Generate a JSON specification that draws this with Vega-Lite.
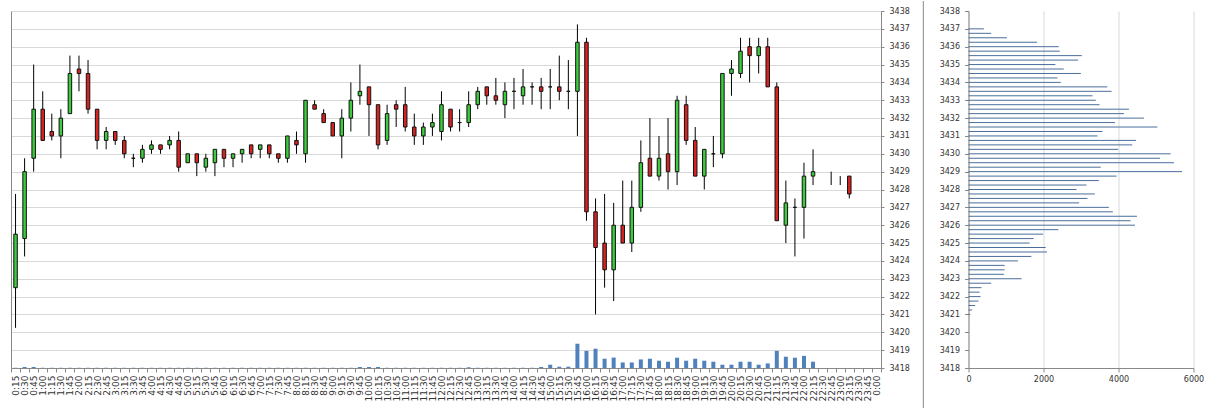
{
  "$schema": "https://vega.github.io/schema/vega-lite/v6.json",
  "padding": {"left": 7, "top": 0, "right": 0, "bottom": 0},
  "background": "white",
  "bounds": "flush",
  "spacing": 87.5,
  "config": {
    "view": {"stroke": null},
    "font": "DejaVu Sans",
    "axis": {"labelFont": "DejaVu Sans", "labelFontSize": 8, "labelColor": "#333333", "domainColor": "#888888", "tickColor": "#888888", "gridColor": "#d9d9d9", "title": null, "labelOverlap": false, "labelFlush": false}
  },
  "datasets": {
    "candles": [
      {"t": "0:15", "open": 3422.5, "high": 3427.75, "low": 3420.25, "close": 3425.5, "vol": 150},
      {"t": "0:30", "open": 3425.25, "high": 3429.75, "low": 3424.25, "close": 3429, "vol": 700},
      {"t": "0:45", "open": 3429.75, "high": 3435, "low": 3429, "close": 3432.5, "vol": 700},
      {"t": "1:00", "open": 3432.5, "high": 3433.5, "low": 3430.75, "close": 3430.75, "vol": 150},
      {"t": "1:15", "open": 3431.25, "high": 3432.25, "low": 3430.75, "close": 3431, "vol": 150},
      {"t": "1:30", "open": 3431, "high": 3432.5, "low": 3429.75, "close": 3432, "vol": 150},
      {"t": "1:45", "open": 3432.25, "high": 3435.5, "low": 3432.25, "close": 3434.5, "vol": 150},
      {"t": "2:00", "open": 3434.75, "high": 3435.5, "low": 3433.5, "close": 3434.5, "vol": 150},
      {"t": "2:15", "open": 3434.5, "high": 3435.25, "low": 3432.25, "close": 3432.5, "vol": 150},
      {"t": "2:30", "open": 3432.5, "high": 3432.5, "low": 3430.25, "close": 3430.75, "vol": 150},
      {"t": "2:45", "open": 3430.75, "high": 3431.5, "low": 3430.25, "close": 3431.25, "vol": 150},
      {"t": "3:00", "open": 3431.25, "high": 3431.25, "low": 3430.5, "close": 3430.75, "vol": 150},
      {"t": "3:15", "open": 3430.75, "high": 3431, "low": 3429.75, "close": 3430, "vol": 150},
      {"t": "3:30", "open": 3429.75, "high": 3430, "low": 3429.25, "close": 3429.75, "vol": 150},
      {"t": "3:45", "open": 3429.75, "high": 3430.5, "low": 3429.5, "close": 3430.25, "vol": 150},
      {"t": "4:00", "open": 3430.25, "high": 3430.75, "low": 3430, "close": 3430.5, "vol": 150},
      {"t": "4:15", "open": 3430.5, "high": 3430.5, "low": 3430, "close": 3430.25, "vol": 150},
      {"t": "4:30", "open": 3430.5, "high": 3431, "low": 3430.25, "close": 3430.75, "vol": 150},
      {"t": "4:45", "open": 3430.75, "high": 3431.25, "low": 3429, "close": 3429.25, "vol": 150},
      {"t": "5:00", "open": 3429.5, "high": 3430, "low": 3429.5, "close": 3430, "vol": 150},
      {"t": "5:15", "open": 3430, "high": 3430, "low": 3428.75, "close": 3429.5, "vol": 150},
      {"t": "5:30", "open": 3429.25, "high": 3430, "low": 3429, "close": 3429.75, "vol": 150},
      {"t": "5:45", "open": 3429.5, "high": 3430.25, "low": 3428.75, "close": 3430.25, "vol": 150},
      {"t": "6:00", "open": 3430.25, "high": 3430.25, "low": 3429.25, "close": 3429.75, "vol": 150},
      {"t": "6:15", "open": 3429.75, "high": 3430, "low": 3429.25, "close": 3430, "vol": 150},
      {"t": "6:30", "open": 3430, "high": 3430.25, "low": 3429.5, "close": 3430.25, "vol": 150},
      {"t": "6:45", "open": 3430.5, "high": 3430.5, "low": 3429.75, "close": 3430, "vol": 150},
      {"t": "7:00", "open": 3430.25, "high": 3430.5, "low": 3429.75, "close": 3430.5, "vol": 150},
      {"t": "7:15", "open": 3430.5, "high": 3430.5, "low": 3429.75, "close": 3430, "vol": 150},
      {"t": "7:30", "open": 3430, "high": 3430, "low": 3429.5, "close": 3429.75, "vol": 150},
      {"t": "7:45", "open": 3429.75, "high": 3431, "low": 3429.5, "close": 3431, "vol": 150},
      {"t": "8:00", "open": 3430.75, "high": 3431.25, "low": 3430, "close": 3430.5, "vol": 150},
      {"t": "8:15", "open": 3430, "high": 3433, "low": 3429.5, "close": 3433, "vol": 150},
      {"t": "8:30", "open": 3432.75, "high": 3433, "low": 3432.5, "close": 3432.5, "vol": 150},
      {"t": "8:45", "open": 3432.25, "high": 3432.5, "low": 3431.75, "close": 3431.75, "vol": 150},
      {"t": "9:00", "open": 3431.75, "high": 3431.75, "low": 3431, "close": 3431, "vol": 150},
      {"t": "9:15", "open": 3431, "high": 3432.5, "low": 3429.75, "close": 3432, "vol": 150},
      {"t": "9:30", "open": 3432, "high": 3434, "low": 3431.25, "close": 3433, "vol": 150},
      {"t": "9:45", "open": 3433.25, "high": 3435, "low": 3432.75, "close": 3433.5, "vol": 700},
      {"t": "10:00", "open": 3433.75, "high": 3433.75, "low": 3431, "close": 3432.75, "vol": 700},
      {"t": "10:15", "open": 3432.75, "high": 3432.75, "low": 3430.25, "close": 3430.5, "vol": 700},
      {"t": "10:30", "open": 3430.75, "high": 3432.75, "low": 3430.5, "close": 3432.25, "vol": 150},
      {"t": "10:45", "open": 3432.75, "high": 3433, "low": 3431.5, "close": 3432.5, "vol": 150},
      {"t": "11:00", "open": 3432.75, "high": 3433.75, "low": 3431.25, "close": 3431.5, "vol": 150},
      {"t": "11:15", "open": 3431.5, "high": 3432.25, "low": 3430.5, "close": 3431, "vol": 150},
      {"t": "11:30", "open": 3431, "high": 3431.75, "low": 3430.5, "close": 3431.5, "vol": 150},
      {"t": "11:45", "open": 3431.5, "high": 3432.25, "low": 3431, "close": 3431.75, "vol": 150},
      {"t": "12:00", "open": 3431.25, "high": 3433.5, "low": 3430.75, "close": 3432.75, "vol": 150},
      {"t": "12:15", "open": 3432.5, "high": 3432.5, "low": 3431.25, "close": 3431.5, "vol": 150},
      {"t": "12:30", "open": 3431.75, "high": 3432.5, "low": 3431.25, "close": 3431.75, "vol": 150},
      {"t": "12:45", "open": 3431.75, "high": 3433.5, "low": 3431.5, "close": 3432.75, "vol": 500},
      {"t": "13:00", "open": 3432.75, "high": 3433.75, "low": 3432.5, "close": 3433.5, "vol": 150},
      {"t": "13:15", "open": 3433.75, "high": 3433.75, "low": 3432.75, "close": 3433.25, "vol": 150},
      {"t": "13:30", "open": 3433.25, "high": 3434.25, "low": 3432.75, "close": 3433, "vol": 150},
      {"t": "13:45", "open": 3432.75, "high": 3434, "low": 3432, "close": 3433.5, "vol": 150},
      {"t": "14:00", "open": 3433.5, "high": 3434.25, "low": 3432.5, "close": 3433.5, "vol": 150},
      {"t": "14:15", "open": 3433.25, "high": 3434.75, "low": 3432.75, "close": 3433.75, "vol": 150},
      {"t": "14:30", "open": 3433.75, "high": 3434, "low": 3432.75, "close": 3433.75, "vol": 150},
      {"t": "14:45", "open": 3433.75, "high": 3434.25, "low": 3432.5, "close": 3433.5, "vol": 700},
      {"t": "15:00", "open": 3433.75, "high": 3434.75, "low": 3432.5, "close": 3433.75, "vol": 2300},
      {"t": "15:15", "open": 3433.75, "high": 3435.5, "low": 3433, "close": 3433.5, "vol": 900},
      {"t": "15:30", "open": 3433.5, "high": 3435.25, "low": 3432.5, "close": 3433.5, "vol": 900},
      {"t": "15:45", "open": 3433.5, "high": 3437.25, "low": 3431, "close": 3436.25, "vol": 17000},
      {"t": "16:00", "open": 3436.25, "high": 3436.5, "low": 3426.25, "close": 3426.75, "vol": 12000},
      {"t": "16:15", "open": 3426.75, "high": 3427.5, "low": 3421, "close": 3424.75, "vol": 13500},
      {"t": "16:30", "open": 3425, "high": 3427.75, "low": 3422.5, "close": 3423.5, "vol": 6500},
      {"t": "16:45", "open": 3423.5, "high": 3427.25, "low": 3421.75, "close": 3426, "vol": 7300},
      {"t": "17:00", "open": 3426, "high": 3428.5, "low": 3425, "close": 3425, "vol": 3900},
      {"t": "17:15", "open": 3425, "high": 3428.5, "low": 3424.5, "close": 3427, "vol": 3900},
      {"t": "17:30", "open": 3427, "high": 3430.75, "low": 3426.75, "close": 3429.5, "vol": 6000},
      {"t": "17:45", "open": 3429.75, "high": 3432, "low": 3428.75, "close": 3428.75, "vol": 6500},
      {"t": "18:00", "open": 3428.75, "high": 3431, "low": 3428.5, "close": 3429.75, "vol": 5100},
      {"t": "18:15", "open": 3430, "high": 3432, "low": 3428, "close": 3429, "vol": 4400},
      {"t": "18:30", "open": 3429, "high": 3433.25, "low": 3428.25, "close": 3433, "vol": 7200},
      {"t": "18:45", "open": 3432.75, "high": 3433.25, "low": 3430.5, "close": 3430.75, "vol": 5100},
      {"t": "19:00", "open": 3430.75, "high": 3431.5, "low": 3428.75, "close": 3428.75, "vol": 6500},
      {"t": "19:15", "open": 3428.75, "high": 3430.25, "low": 3428, "close": 3430.25, "vol": 5100},
      {"t": "19:30", "open": 3430, "high": 3431, "low": 3429.25, "close": 3430, "vol": 4400},
      {"t": "19:45", "open": 3430, "high": 3434.5, "low": 3429.75, "close": 3434.5, "vol": 2300},
      {"t": "20:00", "open": 3434.5, "high": 3435.25, "low": 3433.25, "close": 3434.75, "vol": 2300},
      {"t": "20:15", "open": 3434.5, "high": 3436.5, "low": 3434.25, "close": 3435.75, "vol": 4400},
      {"t": "20:30", "open": 3436, "high": 3436.5, "low": 3434, "close": 3435.5, "vol": 4400},
      {"t": "20:45", "open": 3435.5, "high": 3436.5, "low": 3434.5, "close": 3436, "vol": 2300},
      {"t": "21:00", "open": 3436, "high": 3436.5, "low": 3433.75, "close": 3433.75, "vol": 3200},
      {"t": "21:15", "open": 3433.75, "high": 3434, "low": 3426.25, "close": 3426.25, "vol": 12000},
      {"t": "21:30", "open": 3426, "high": 3428.5, "low": 3425, "close": 3427.25, "vol": 7900},
      {"t": "21:45", "open": 3427, "high": 3427.5, "low": 3424.25, "close": 3427, "vol": 7200},
      {"t": "22:00", "open": 3427, "high": 3429.5, "low": 3425.25, "close": 3428.75, "vol": 8500},
      {"t": "22:15", "open": 3428.75, "high": 3430.25, "low": 3428.25, "close": 3429, "vol": 4400},
      {"t": "22:30", "open": null, "high": null, "low": null, "close": null, "vol": null},
      {"t": "22:45", "open": null, "high": 3429, "low": 3428.25, "close": null, "vol": null},
      {"t": "23:00", "open": null, "high": 3428.75, "low": 3428.25, "close": null, "vol": null},
      {"t": "23:15", "open": 3428.75, "high": 3428.75, "low": 3427.5, "close": 3427.75, "vol": null},
      {"t": "23:30", "open": null, "high": null, "low": null, "close": null, "vol": null},
      {"t": "23:45", "open": null, "high": null, "low": null, "close": null, "vol": null},
      {"t": "0:00", "open": null, "high": null, "low": null, "close": null, "vol": null}
    ],
    "profile": [
      {"price": 3437, "volume": 410}, {"price": 3436.75, "volume": 606}, {"price": 3436.5, "volume": 1025}, {"price": 3436.25, "volume": 1827},
      {"price": 3436, "volume": 2406}, {"price": 3435.75, "volume": 2433}, {"price": 3435.5, "volume": 3021}, {"price": 3435.25, "volume": 2923},
      {"price": 3435, "volume": 2317}, {"price": 3434.75, "volume": 2540}, {"price": 3434.5, "volume": 2995}, {"price": 3434.25, "volume": 2371},
      {"price": 3434, "volume": 2460}, {"price": 3433.75, "volume": 3699}, {"price": 3433.5, "volume": 3815}, {"price": 3433.25, "volume": 3307},
      {"price": 3433, "volume": 3396}, {"price": 3432.75, "volume": 3494}, {"price": 3432.5, "volume": 4278}, {"price": 3432.25, "volume": 4144},
      {"price": 3432, "volume": 4679}, {"price": 3431.75, "volume": 3904}, {"price": 3431.5, "volume": 5036}, {"price": 3431.25, "volume": 3574},
      {"price": 3431, "volume": 3440}, {"price": 3430.75, "volume": 4465}, {"price": 3430.5, "volume": 4367}, {"price": 3430.25, "volume": 3993},
      {"price": 3430, "volume": 5392}, {"price": 3429.75, "volume": 5107}, {"price": 3429.5, "volume": 5481}, {"price": 3429.25, "volume": 3529},
      {"price": 3429, "volume": 5695}, {"price": 3428.75, "volume": 3948}, {"price": 3428.5, "volume": 3476}, {"price": 3428.25, "volume": 3146},
      {"price": 3428, "volume": 2879}, {"price": 3427.75, "volume": 3369}, {"price": 3427.5, "volume": 3173}, {"price": 3427.25, "volume": 2950},
      {"price": 3427, "volume": 3743}, {"price": 3426.75, "volume": 3850}, {"price": 3426.5, "volume": 4492}, {"price": 3426.25, "volume": 4323},
      {"price": 3426, "volume": 4439}, {"price": 3425.75, "volume": 2398}, {"price": 3425.5, "volume": 1988}, {"price": 3425.25, "volume": 1738},
      {"price": 3425, "volume": 1631}, {"price": 3424.75, "volume": 2059}, {"price": 3424.5, "volume": 2094}, {"price": 3424.25, "volume": 1676},
      {"price": 3424, "volume": 1319}, {"price": 3423.75, "volume": 963}, {"price": 3423.5, "volume": 963}, {"price": 3423.25, "volume": 945},
      {"price": 3423, "volume": 1417}, {"price": 3422.75, "volume": 606}, {"price": 3422.5, "volume": 348}, {"price": 3422.25, "volume": 294},
      {"price": 3422, "volume": 321}, {"price": 3421.75, "volume": 267}, {"price": 3421.5, "volume": 178}, {"price": 3421.25, "volume": 98},
      {"price": 3421, "volume": 45}
    ]
  },
  "hconcat": [
    {
      "width": 870,
      "height": 357,
      "data": {"name": "candles"},
      "layer": [
        {
          "mark": {"type": "bar", "size": 4, "color": "#4f81bd"},
          "encoding": {
            "x": {
              "field": "t", "type": "nominal", "sort": null,
              "scale": {"type": "band", "paddingInner": 0, "paddingOuter": 0,
                "domain": ["0:15","0:30","0:45","1:00","1:15","1:30","1:45","2:00","2:15","2:30","2:45","3:00","3:15","3:30","3:45","4:00","4:15","4:30","4:45","5:00","5:15","5:30","5:45","6:00","6:15","6:30","6:45","7:00","7:15","7:30","7:45","8:00","8:15","8:30","8:45","9:00","9:15","9:30","9:45","10:00","10:15","10:30","10:45","11:00","11:15","11:30","11:45","12:00","12:15","12:30","12:45","13:00","13:15","13:30","13:45","14:00","14:15","14:30","14:45","15:00","15:15","15:30","15:45","16:00","16:15","16:30","16:45","17:00","17:15","17:30","17:45","18:00","18:15","18:30","18:45","19:00","19:15","19:30","19:45","20:00","20:15","20:30","20:45","21:00","21:15","21:30","21:45","22:00","22:15","22:30","22:45","23:00","23:15","23:30","23:45","0:00"]},
              "axis": {"labelAngle": 270, "labelAlign": "right", "labelBaseline": "middle", "labelFontSize": 9, "labelPadding": 3, "tickSize": 4, "tickBand": "extent", "labelOverlap": false, "grid": false, "title": null}
            },
            "y": {"field": "vol", "type": "quantitative", "scale": {"domain": [0, 250000], "nice": false},
              "axis": {"orient": "left", "labels": false, "ticks": false, "grid": false, "domain": true, "title": null}}
          }
        },
        {
          "mark": {"type": "rule", "color": "#000000", "strokeWidth": 1},
          "encoding": {
            "x": {"field": "t", "type": "nominal", "sort": null},
            "y": {"field": "low", "type": "quantitative", "scale": {"domain": [3418, 3438], "nice": false, "zero": false}, "axis": null},
            "y2": {"field": "high"}
          }
        },
        {
          "mark": {"type": "bar", "size": 3.5, "stroke": "#111111", "strokeWidth": 1},
          "encoding": {
            "x": {"field": "t", "type": "nominal", "sort": null},
            "y": {"field": "open", "type": "quantitative", "scale": {"domain": [3418, 3438], "nice": false, "zero": false},
              "axis": {"orient": "right", "values": [3418,3419,3420,3421,3422,3423,3424,3425,3426,3427,3428,3429,3430,3431,3432,3433,3434,3435,3436,3437,3438], "format": "d", "grid": true, "tickSize": 3, "labelPadding": 5, "labelOverlap": false, "title": null}},
            "y2": {"field": "close"},
            "fill": {"condition": {"test": "datum.close < datum.open", "value": "#d82222"}, "value": "#3ccc3c"}
          }
        }
      ],
      "resolve": {"scale": {"y": "independent"}}
    },
    {
      "width": 225,
      "height": 357,
      "layer": [
        {
          "data": {"name": "profile"},
          "mark": {"type": "rule", "color": "#4a6e9c", "strokeWidth": 1},
          "encoding": {
            "y": {"field": "price", "type": "quantitative", "scale": {"domain": [3418, 3438], "nice": false, "zero": false},
              "axis": {"orient": "left", "values": [3418,3419,3420,3421,3422,3423,3424,3425,3426,3427,3428,3429,3430,3431,3432,3433,3434,3435,3436,3437,3438], "format": "d", "grid": false, "tickSize": 4, "labelPadding": 5, "labelOverlap": false, "title": null}},
            "x": {"field": "volume", "type": "quantitative", "scale": {"domain": [0, 6000], "nice": false},
              "axis": {"values": [0, 2000, 4000, 6000], "format": "d", "grid": true, "tickSize": 4, "labelPadding": 3, "labelFlush": false, "labelOverlap": false, "title": null}},
            "x2": {"datum": 0}
          }
        },
        {
          "data": {"values": [{"edge": "separator"}]},
          "mark": {"type": "rule", "color": "#888888", "strokeWidth": 1},
          "encoding": {
            "x": {"datum": -1205, "type": "quantitative", "axis": null},
            "y": {"datum": 3438.56, "type": "quantitative", "axis": null},
            "y2": {"datum": 3415.6}
          }
        }
      ],
      "resolve": {"axis": {"x": "independent", "y": "independent"}}
    }
  ]
}
